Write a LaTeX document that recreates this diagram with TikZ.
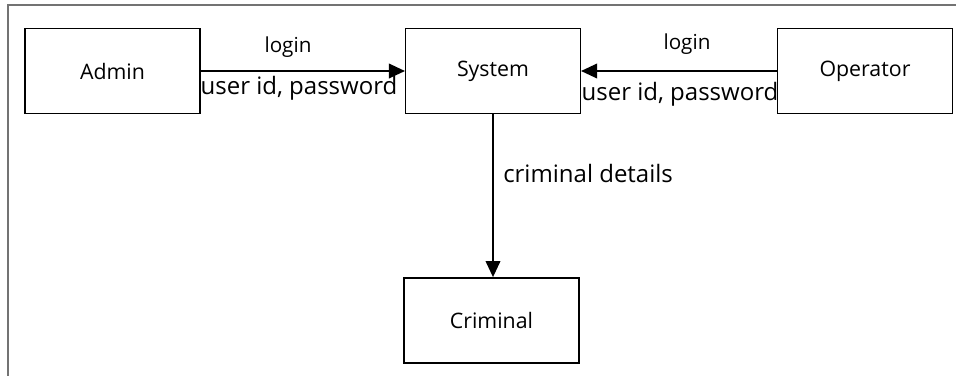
\documentclass[tikz,border=0pt]{standalone}
\usepackage{fontspec}
\setmainfont{Open Sans}
\usetikzlibrary{arrows.meta}
\tikzset{
  entity/.style={draw, line width=1.1pt, minimum width=131pt, minimum height=64pt, inner sep=0pt, font=\fontsize{16}{19}\selectfont},
  flow/.style={line width=1.1pt, -{Triangle[length=12pt,width=11pt]}},
  lbl/.style={inner sep=0pt, font=\fontsize{15.5}{18}\selectfont},
  lblbig/.style={inner sep=0pt, font=\fontsize{18}{22}\selectfont}
}
\begin{document}
\begin{tikzpicture}[x=0.75pt,y=-0.75pt]
\useasboundingbox (0,0) rectangle (956,376);
\draw[gray!90!black, line width=1.1pt] (956,5) -- (8,5) -- (8,376);

\node[entity] (admin) at (112.5,71) {Admin};
\node[entity] (system) at (493,71) {System};
\node[entity] (operator) at (865,71) {Operator};
\node[entity] (criminal) at (491.5,320.5) {Criminal};

\path[draw,flow] (admin) -- (system);
\path[draw,flow] (operator) -- (system);
\path[draw,flow] (system.south -| 493,0) -- (criminal.north -| 493,0);

\node[lbl] (login1) at (288,47) {login};
\node[lblbig] (cred1) at (299,88) {user id, password};
\node[lbl] (login2) at (687,44) {login};
\node[lblbig] (cred2) at (680,94) {user id, password};
\node[lblbig, anchor=west] (details) at (503,173) {criminal details};
\end{tikzpicture}
\end{document}
